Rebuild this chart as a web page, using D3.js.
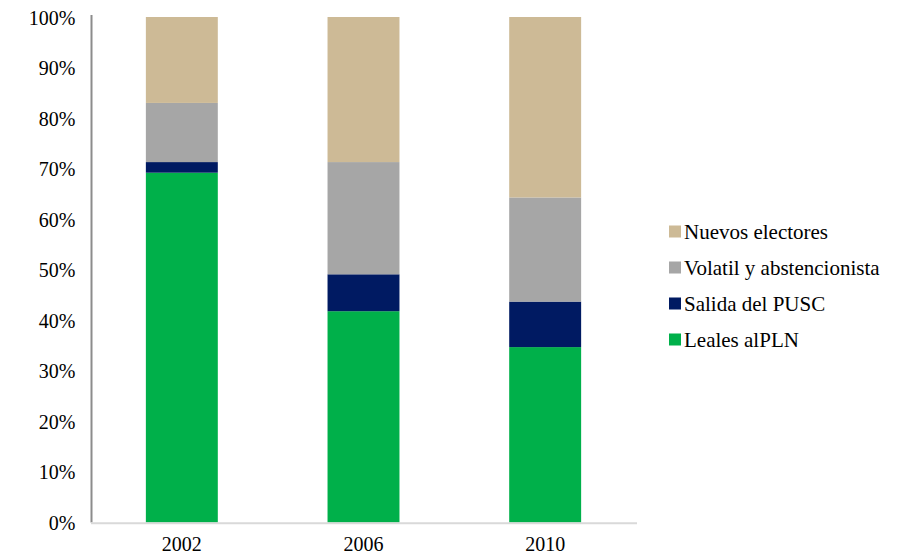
<!DOCTYPE html>
<html>
<head>
<meta charset="utf-8">
<script src="https://cdn.jsdelivr.net/npm/d3@7"></script>
</head>
<body style="margin:0">
<svg id="chart" width="905" height="559"></svg>
<script>
/* Data */
var years = ["2002", "2006", "2010"];
var leales = [69.2, 41.8, 34.7];
var salida = [2.1, 7.3, 9.0];
var volatil = [11.7, 22.2, 20.6];
var nuevos = [17.0, 28.7, 35.7];
var seriesNames = ["Leales alPLN", "Salida del PUSC", "Volatil y abstencionista", "Nuevos electores"];
var seriesColors = ["#00b04a", "#001a62", "#a6a6a6", "#cdba96"];
var yTicks = [0, 10, 20, 30, 40, 50, 60, 70, 80, 90, 100];

var FONT = "'Liberation Serif'";

var svg = d3.select("#chart");

var x = d3.scaleBand().domain(years).range([91, 636]).paddingInner(0.604).paddingOuter(0.302);
var y = d3.scaleLinear().domain([0, 100]).range([522.5, 17]);

/* build rows for the stack */
var rows = years.map(function (yr, i) {
  return { year: yr, s0: leales[i], s1: salida[i], s2: volatil[i], s3: nuevos[i] };
});
var layers = d3.stack().keys(["s0", "s1", "s2", "s3"])(rows);

svg.append("g")
  .selectAll("g")
  .data(layers)
  .enter().append("g")
  .attr("fill", function (d, i) { return seriesColors[i]; })
  .selectAll("rect")
  .data(function (d) { return d; })
  .enter().append("rect")
  .attr("x", function (d) { return x(d.data.year); })
  .attr("width", x.bandwidth())
  .attr("y", function (d) { return y(d[1]); })
  .attr("height", function (d) { return y(d[0]) - y(d[1]); });

/* y axis */
var yAxis = d3.axisLeft(y).tickValues(yTicks).tickSize(0).tickPadding(16)
  .tickFormat(function (d) { return d + "%"; });
var gy = svg.append("g").attr("transform", "translate(91.5,0)").call(yAxis);
gy.select(".domain").remove();
gy.selectAll("text")
  .style("font-family", FONT).style("font-size", "20px")
  .attr("fill", "#000").attr("dy", "0.35em");
svg.append("line")
  .attr("x1", 91.5).attr("x2", 91.5)
  .attr("y1", 15).attr("y2", y(0))
  .attr("stroke", "#8c8c8c").attr("stroke-width", 2);

/* x axis */
var xAxis = d3.axisBottom(x).tickSize(0).tickPadding(14);
var gx = svg.append("g").attr("transform", "translate(0," + y(0) + ")").call(xAxis);
gx.select(".domain").remove();
gx.selectAll("text")
  .style("font-family", FONT).style("font-size", "20px")
  .attr("fill", "#000");
svg.append("line")
  .attr("x1", 91).attr("x2", 637)
  .attr("y1", 523.3).attr("y2", 523.3)
  .attr("stroke", "#d9d9d9").attr("stroke-width", 2);

/* legend, top to bottom reversed */
var legendOrder = [3, 2, 1, 0];
var item = svg.append("g").attr("transform", "translate(669,0)")
  .selectAll("g")
  .data(legendOrder)
  .enter().append("g")
  .attr("transform", function (d, i) { return "translate(0," + (231.5 + i * 36) + ")"; });
item.append("rect")
  .attr("x", 0).attr("y", -6)
  .attr("width", 12).attr("height", 12)
  .attr("fill", function (d) { return seriesColors[d]; });
item.append("text")
  .attr("x", 15).attr("dy", "0.35em")
  .style("font-family", FONT).style("font-size", "21px")
  .text(function (d) { return seriesNames[d]; });
</script>
</body>
</html>
